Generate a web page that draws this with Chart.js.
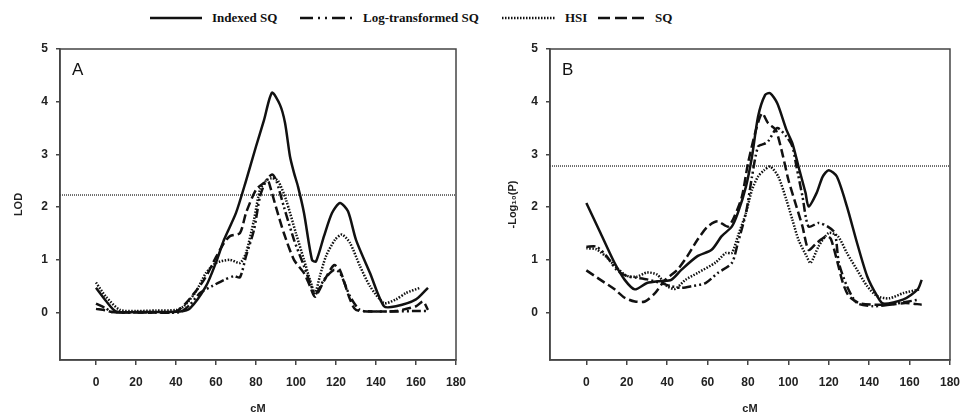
<!DOCTYPE html>
<html>
<head>
<meta charset="utf-8">
<title>QTL profiles</title>
<script src="https://cdn.jsdelivr.net/npm/chart.js"></script>
<style>
  html, body { margin: 0; padding: 0; background: #fff; }
  body { width: 960px; height: 413px; position: relative; overflow: hidden; }
  .legend { position: absolute; top: 8px; left: 0; width: 960px; height: 20px;
            font-family: 'Liberation Serif', serif; font-weight: bold; font-size: 13px; color: #111; }
  .legend span { position: absolute; top: 0; line-height: 20px; white-space: nowrap; }
  .legend svg { position: absolute; top: 0; }
  .panel { position: absolute; top: 0; }
</style>
</head>
<body>

<div class="legend">
  <svg style="left:150px" width="52" height="20"><line x1="0" y1="10" x2="52" y2="10" stroke="#111" stroke-width="2.5"/></svg>
  <span style="left:212px">Indexed SQ</span>
  <svg style="left:300px" width="54" height="20"><line x1="0" y1="10" x2="54" y2="10" stroke="#111" stroke-width="2.5" stroke-dasharray="13,5,2,5,2,5"/></svg>
  <span style="left:363px">Log-transformed SQ</span>
  <svg style="left:502px" width="54" height="20"><line x1="0" y1="10" x2="54" y2="10" stroke="#111" stroke-width="2.5" stroke-dasharray="1.5,1.5"/></svg>
  <span style="left:565px">HSI</span>
  <svg style="left:598px" width="46" height="20"><line x1="0" y1="10" x2="46" y2="10" stroke="#111" stroke-width="2.5" stroke-dasharray="12,5"/></svg>
  <span style="left:655px">SQ</span>
</div>

<canvas id="panelA" class="panel" style="left:0" width="480" height="416"></canvas>
<canvas id="panelB" class="panel" style="left:480px" width="490" height="416"></canvas>

<script>
// axis ranges
const X_MIN = -18, X_MAX = 180;
const Y_MIN = -0.9, Y_MAX = 5;

// Panel A (LOD)
const aIndexedX = [0, 5, 10, 20, 30, 42, 47, 55, 60, 64, 70, 75, 80, 84, 88, 92, 94.5, 97, 99, 101, 104, 108, 110, 114, 118, 122, 126, 130, 137, 144, 150, 160, 166];
const aIndexedY = [0.47, 0.22, 0.02, 0.01, 0.01, 0.02, 0.08, 0.5, 0.95, 1.38, 1.89, 2.5, 3.15, 3.65, 4.17, 3.94, 3.6, 2.96, 2.65, 2.39, 1.89, 1.0, 0.97, 1.45, 1.89, 2.08, 1.92, 1.38, 0.75, 0.12, 0.12, 0.25, 0.47];
const aLogX = [0, 5, 8, 20, 30, 42, 47, 52, 58, 64, 69, 72, 75, 79, 82, 85, 88, 90, 94, 99, 104, 109, 110, 114, 119, 122, 127, 132, 140, 150, 160, 166];
const aLogY = [0.17, 0.08, 0.01, 0.0, 0.0, 0.01, 0.15, 0.37, 0.5, 0.62, 0.69, 0.67, 1.07, 1.57, 2.2, 2.5, 2.62, 2.52, 2.0, 1.38, 0.88, 0.37, 0.35, 0.62, 0.81, 0.75, 0.31, 0.05, 0.02, 0.02, 0.03, 0.03];
const aHsiX = [0, 5, 12, 20, 30, 40, 44, 50, 55, 60, 67, 72, 75, 79, 82, 85, 88, 91, 95, 100, 104, 107, 109.5, 112, 115, 119.5, 123, 127, 132, 137, 144, 150, 155, 162];
const aHsiY = [0.57, 0.3, 0.05, 0.03, 0.04, 0.05, 0.12, 0.4, 0.75, 0.94, 1.0, 0.94, 1.13, 1.76, 2.33, 2.5, 2.55, 2.5, 2.14, 1.5, 1.0, 0.62, 0.37, 0.7, 1.07, 1.38, 1.48, 1.32, 0.88, 0.5, 0.18, 0.25, 0.37, 0.47];
const aSqX = [0, 5, 8, 20, 30, 40, 45, 54, 60, 64, 67, 72, 75, 80, 84, 86, 87, 90, 94, 99, 104, 107, 109.5, 114, 119, 122, 127, 130, 140, 150, 160, 163.5, 166];
const aSqY = [0.07, 0.04, 0.01, 0.0, 0.0, 0.02, 0.18, 0.62, 1.05, 1.32, 1.45, 1.51, 1.89, 2.33, 2.46, 2.5, 2.4, 2.0, 1.5, 1.0, 0.75, 0.5, 0.3, 0.6, 0.9, 0.8, 0.25, 0.05, 0.02, 0.03, 0.12, 0.21, 0.05];
const aThreshold = 2.23;

// Panel B (-Log10 P)
const bIndexedX = [0, 7, 14, 19, 24, 30, 37, 42, 47, 55, 62, 67, 72, 75, 79, 82, 85, 88.5, 91, 94.5, 99, 102, 105, 108.5, 110, 114, 117, 120, 124, 129, 134, 139, 144, 147, 157, 164, 166];
const bIndexedY = [2.08, 1.51, 0.94, 0.62, 0.44, 0.56, 0.6, 0.62, 0.81, 1.07, 1.19, 1.45, 1.63, 1.89, 2.39, 2.96, 3.72, 4.13, 4.16, 3.97, 3.47, 3.21, 2.77, 2.27, 2.01, 2.27, 2.58, 2.7, 2.58, 2.01, 1.32, 0.69, 0.31, 0.17, 0.25, 0.44, 0.62];
const bLogX = [0, 5, 10, 15, 20, 25, 30, 37, 42, 47, 52, 59, 65, 72, 75, 79, 82, 85, 88, 90, 94.5, 99, 102, 104, 107, 110, 115, 119.5, 123, 125, 129, 134, 142, 150, 158, 165];
const bLogY = [1.25, 1.25, 1.07, 0.81, 0.69, 0.66, 0.63, 0.56, 0.5, 0.47, 0.5, 0.56, 0.75, 0.94, 1.32, 1.89, 2.58, 3.15, 3.2, 3.25, 3.5, 3.34, 3.15, 2.77, 2.2, 1.63, 1.7, 1.63, 1.51, 0.94, 0.5, 0.18, 0.12, 0.15, 0.2, 0.25];
const bHsiX = [0, 5, 10, 15, 20, 25, 30, 35, 40, 44, 49, 55, 64, 69, 72, 75, 79, 82, 85, 88, 91, 95, 99, 102, 105, 109, 111, 115, 120, 124.5, 129, 134, 139, 144, 150, 157, 165];
const bHsiY = [1.22, 1.2, 1.05, 0.85, 0.7, 0.68, 0.76, 0.72, 0.5, 0.45, 0.62, 0.75, 0.95, 1.13, 1.13, 1.45, 1.89, 2.33, 2.58, 2.7, 2.77, 2.58, 2.14, 1.76, 1.38, 1.07, 0.94, 1.26, 1.51, 1.45, 1.13, 0.81, 0.5, 0.31, 0.27, 0.37, 0.44];
const bSqX = [0, 7, 14, 19, 24, 29, 34, 39, 45, 50, 55, 60, 65, 70, 73, 77, 80, 84, 87, 90, 93.7, 97, 100, 104, 107, 110, 114, 119, 121, 124, 127, 130, 135, 142, 150, 158, 166];
const bSqY = [0.8, 0.62, 0.44, 0.28, 0.21, 0.21, 0.37, 0.62, 0.81, 1.07, 1.38, 1.63, 1.73, 1.63, 1.8, 2.2, 2.83, 3.47, 3.78, 3.59, 3.47, 3.02, 2.52, 2.01, 1.63, 1.19, 1.32, 1.45, 1.4, 1.0, 0.56, 0.31, 0.18, 0.15, 0.15, 0.18, 0.15];
const bThreshold = 2.78;

const pts = (xs, ys) => xs.map((x, i) => ({ x, y: ys[i] }));
const tickFont = { family: 'Liberation Sans', weight: 'bold', size: 12 };
const axisColor = '#444';

// frame around plot + panel letter
const frame = {
  id: 'frame',
  afterDraw(chart, args, opts) {
    const { ctx, chartArea: a } = chart;
    ctx.save();
    ctx.strokeStyle = axisColor;
    ctx.lineWidth = 1.5;
    ctx.strokeRect(a.left, a.top, a.width, a.height);
    ctx.fillStyle = '#111';
    ctx.font = '17px "Liberation Sans"';
    ctx.textBaseline = 'top';
    ctx.fillText(opts.text, a.left + 12, a.top + 13);
    ctx.restore();
  }
};

function line(data, dash, width) {
  return { data, borderColor: '#111', borderWidth: width || 2.5, borderDash: dash,
           pointRadius: 0, tension: 0.25, fill: false };
}

function panel(id, s, thresh, yTitle, tag, padLeft, axisW, padRight) {
  new Chart(document.getElementById(id), {
    type: 'line',
    data: {
      datasets: [
        line(pts(s[0], s[1]), []),
        line(pts(s[2], s[3]), [9, 3, 2, 3, 2, 3]),
        line(pts(s[4], s[5]), [1.5, 1.5]),
        line(pts(s[6], s[7]), [9, 4]),
        { data: [{ x: X_MIN, y: thresh }, { x: X_MAX, y: thresh }], borderColor: '#333',
          borderWidth: 1.4, borderDash: [1, 1], pointRadius: 0, tension: 0 }
      ]
    },
    options: {
      responsive: false,
      animation: false,
      layout: { padding: { left: padLeft, right: padRight, top: 49, bottom: 0 } },
      plugins: { legend: { display: false }, tooltip: { enabled: false }, frame: { text: tag } },
      scales: {
        x: {
          type: 'linear', min: X_MIN, max: X_MAX,
          ticks: { stepSize: 20, color: '#222', font: tickFont, padding: 10, maxRotation: 0 },
          grid: { drawOnChartArea: false, drawTicks: true, tickLength: 5, color: axisColor, lineWidth: 1.5 },
          border: { display: true, color: axisColor, width: 1.5 },
          title: { display: true, text: 'cM', color: '#222', font: { family: 'Liberation Sans', weight: 'bold', size: 11 }, padding: 0 },
          afterBuildTicks: sc => { sc.ticks = sc.ticks.filter(t => t.value >= 0); },
          afterFit: sc => { sc.height = 56; }
        },
        y: {
          min: Y_MIN, max: Y_MAX,
          ticks: { stepSize: 1, color: '#222', font: tickFont, padding: 8 },
          grid: { drawOnChartArea: false, drawTicks: true, tickLength: 4, color: axisColor, lineWidth: 1.5 },
          border: { display: true, color: axisColor, width: 1.5 },
          title: { display: true, text: yTitle, color: '#222', font: { family: 'Liberation Sans', weight: 'bold', size: 11 }, padding: 0 },
          afterBuildTicks: sc => { sc.ticks = sc.ticks.filter(t => t.value >= 0); },
          afterFit: sc => { sc.width = axisW; }
        }
      }
    },
    plugins: [frame]
  });
}

panel('panelA', [aIndexedX, aIndexedY, aLogX, aLogY, aHsiX, aHsiY, aSqX, aSqY], aThreshold, 'LOD', 'A', 12, 48, 24);
panel('panelB', [bIndexedX, bIndexedY, bLogX, bLogY, bHsiX, bHsiY, bSqX, bSqY], bThreshold, '-Log\u2081\u2080(P)', 'B', 26, 44, 0);
</script>
</body>
</html>
